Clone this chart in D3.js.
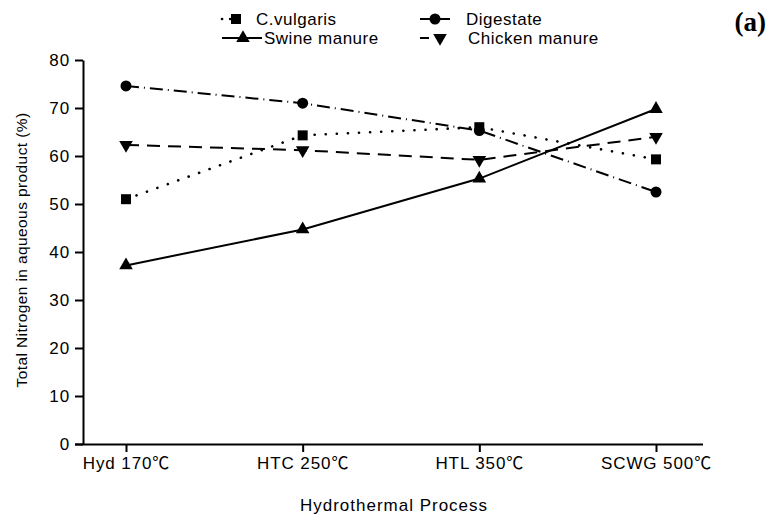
<!DOCTYPE html>
<html>
<head>
<meta charset="utf-8">
<script src="https://cdn.jsdelivr.net/npm/d3@7"></script>
<style>
  body { margin: 0; background: #fff; }
  text { font-family: "Liberation Sans", "Noto Sans CJK SC", Arial, sans-serif; fill: #000; }
</style>
</head>
<body>
<svg id="chart" width="766" height="519"></svg>
<script>
const processes = ["Hyd 170\u2103", "HTC 250\u2103", "HTL 350\u2103", "SCWG 500\u2103"];
const cVulgaris = [51.0, 64.3, 66.0, 59.3];
const digestate = [74.6, 71.0, 65.3, 52.5];
const swineManure = [37.2, 44.7, 55.3, 69.8];
const chickenManure = [62.3, 61.2, 59.2, 64.0];
const yTicks = [0, 10, 20, 30, 40, 50, 60, 70, 80];

const series = [
  { name: "C.vulgaris", values: cVulgaris, dash: "0.1,11", cap: "round", symbol: d3.symbolSquare, size: 100, rot: 0 },
  { name: "Digestate", values: digestate, dash: "13,5,1,5", cap: "butt", symbol: d3.symbolCircle, size: 95, rot: 0 },
  { name: "Swine manure", values: swineManure, dash: null, cap: "butt", symbol: d3.symbolTriangle, size: 80, rot: 0 },
  { name: "Chicken manure", values: chickenManure, dash: "13,8", cap: "butt", symbol: d3.symbolTriangle, size: 80, rot: 180 }
];

const svg = d3.select("#chart"),
  margin = { top: 60, right: 63, bottom: 75, left: 83 },
  width = +svg.attr("width") - margin.left - margin.right,
  height = +svg.attr("height") - margin.top - margin.bottom;

const chart = svg.append("g").attr("transform", `translate(${margin.left},${margin.top})`);

const x = d3.scalePoint()
  .domain(processes)
  .range([43, 573]);

const y = d3.scaleLinear()
  .domain([0, 80])
  .range([height, 0]);

// axes
const xAxis = chart.append("g")
  .attr("transform", `translate(0,${height})`)
  .call(d3.axisBottom(x).tickSize(8).tickPadding(5).tickSizeOuter(0));
xAxis.select(".domain").attr("d", `M-8,0.5H${width}`);

const yAxis = chart.append("g")
  .call(d3.axisLeft(y).tickValues(yTicks).tickSize(8).tickPadding(5).tickSizeOuter(0));

chart.selectAll(".domain").attr("stroke", "#000").attr("stroke-width", 2);
chart.selectAll(".tick line").attr("stroke", "#000").attr("stroke-width", 2);
chart.selectAll(".tick text").style("font-size", "17px").style("letter-spacing", "0.9px");

// lines
const line = d3.line()
  .x((d, i) => x(processes[i]))
  .y(d => y(d));

series.forEach(s => {
  chart.append("path")
    .datum(s.values)
    .attr("fill", "none")
    .attr("stroke", "#000")
    .attr("stroke-width", s.cap === "round" ? 2.6 : 2)
    .attr("stroke-linecap", s.cap)
    .attr("stroke-dasharray", s.dash)
    .attr("d", line);

  chart.selectAll(null)
    .data(s.values)
    .enter().append("path")
    .attr("d", d3.symbol().type(s.symbol).size(s.size))
    .attr("transform", (d, i) => `translate(${x(processes[i])},${y(d)}) rotate(${s.rot})`)
    .attr("fill", "#000");
});

// axis titles
svg.append("text")
  .attr("transform", `translate(27,${margin.top + height / 2 - 2}) rotate(-90)`)
  .attr("text-anchor", "middle")
  .style("font-size", "15.5px")
  .style("letter-spacing", "0.4px")
  .text("Total Nitrogen in aqueous product (%)");

svg.append("text")
  .attr("x", 394)
  .attr("y", 511)
  .attr("text-anchor", "middle")
  .style("font-size", "17px")
  .style("letter-spacing", "1px")
  .text("Hydrothermal Process");

// panel label
svg.append("text")
  .attr("x", 766)
  .attr("y", 31)
  .attr("text-anchor", "end")
  .style("font-family", "'Liberation Serif', 'Times New Roman', serif")
  .style("font-size", "27px")
  .style("font-weight", "bold")
  .text("(a)");

// legend
const legendPos = [
  { x: 222, y: 19, len: 24, dash: "0.1,8", mx: 14, tx: 34 },
  { x: 420, y: 19, len: 30, dash: "10,10,10", mx: 15, tx: 46 },
  { x: 222, y: 38, len: 40, dash: null, mx: 21, tx: 42 },
  { x: 420, y: 38, len: 30, dash: "9,100", mx: 20, tx: 48 }
];

const legend = svg.selectAll(".legend")
  .data(series)
  .enter().append("g")
  .attr("class", "legend")
  .attr("transform", (d, i) => `translate(${legendPos[i].x},${legendPos[i].y})`);

legend.append("line")
  .attr("x1", 0)
  .attr("x2", (d, i) => legendPos[i].len)
  .attr("stroke", "#000")
  .attr("stroke-width", (d, i) => i === 0 ? 2.6 : 2)
  .attr("stroke-linecap", d => d.cap)
  .attr("stroke-dasharray", (d, i) => legendPos[i].dash);

legend.append("path")
  .attr("d", d => d3.symbol().type(d.symbol).size(d.size)())
  .attr("transform", (d, i) => `translate(${legendPos[i].mx},0) rotate(${d.rot})`)
  .attr("fill", "#000");

legend.append("text")
  .attr("x", (d, i) => legendPos[i].tx)
  .attr("y", 6)
  .style("font-size", "17px")
  .style("letter-spacing", "0.5px")
  .text(d => d.name);
</script>
</body>
</html>
